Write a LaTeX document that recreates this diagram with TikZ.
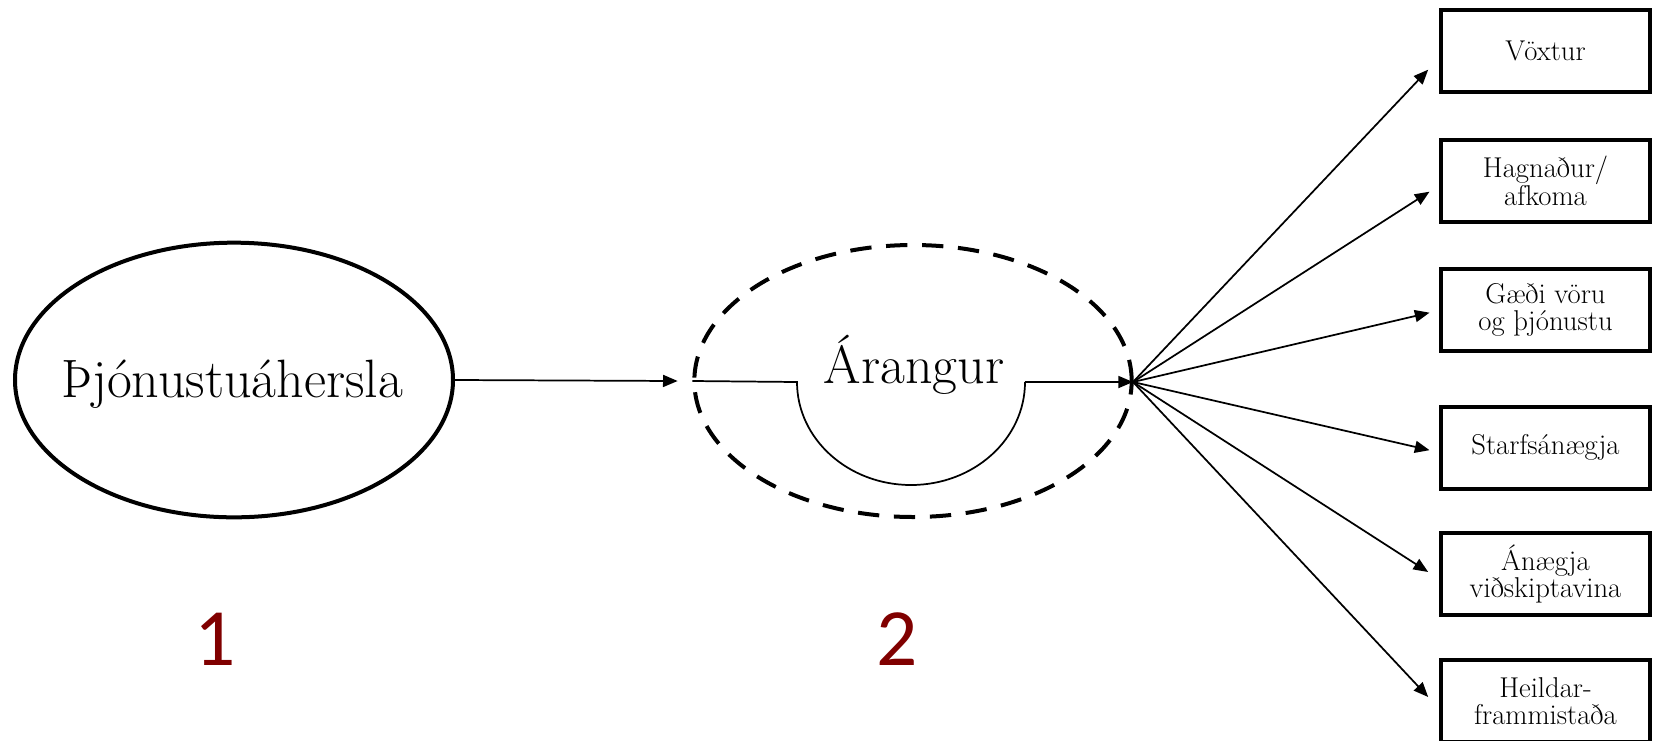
\documentclass[tikz,border=0pt]{standalone}
\usepackage{fontspec}
\newfontfamily\numfont{Carlito}
\usetikzlibrary{arrows.meta,shapes.geometric}
\definecolor{numred}{HTML}{800000}
\begin{document}
\begin{tikzpicture}[x=0.75pt,y=-0.75pt,
  arr/.style={-{Triangle[length=11pt,width=9pt]}, line width=1.3pt},
  thinline/.style={line width=1.3pt},
  box/.style={draw, line width=3pt, minimum width=157pt, minimum height=61.5pt, inner sep=0pt, align=center,
    font=\fontsize{21.5}{20.5}\selectfont},
  bigoval/.style={draw, ellipse, line width=3pt, inner sep=0pt},
  dashoval/.style={draw, ellipse, line width=3pt, inner sep=0pt, dash pattern=on 16pt off 11pt},
  numlabel/.style={text=numred, font=\numfont\fontsize{61}{61}\selectfont},
  bigtext/.style={font=\fontsize{40.5}{40.5}\selectfont}]
\useasboundingbox (0,0) rectangle (1655,740);
\clip (0,0) rectangle (1655,740);

\node[bigoval, minimum width=328.5pt, minimum height=206pt] (focus) at (234,380) {};
\node[bigtext, anchor=base] (focustext) at (232,397) {Þjónustuáhersla};

\node[dashoval, minimum width=328pt, minimum height=204pt] (result) at (913,381) {};
\node[bigtext, anchor=base] (resulttext) at (914,383) {Árangur};

\coordinate (hub) at (1133,382);
\coordinate (arcL) at (797,382);
\coordinate (arcR) at (1025,382);

\draw[arr] (focus.east) -- ([xshift=-11pt]result.west);
\draw[thinline] (result.west) -- (arcL) arc[start angle=180, end angle=360, x radius=85.5pt, y radius=77.25pt] -- (arcR);
\draw[arr] (arcR) -- (hub);

\node[box] (b1) at (1545.5,51) {Vöxtur};
\node[box] (b2) at (1545.5,181) {Hagnaður/\\afkoma};
\node[box] (b3) at (1545.5,310) {Gæði vöru\\og þjónustu};
\node[box] (b4) at (1545.5,447.5) {Starfsánægja};
\node[box] (b5) at (1545.5,574) {Ánægja\\viðskiptavina};
\node[box] (b6) at (1545.5,701) {Heildar-\\frammistaða};

\draw[arr] (hub) -- ([xshift=-8pt,yshift=-14pt]b1.west);
\draw[arr] (hub) -- ([xshift=-7pt,yshift=-8pt]b2.west);
\draw[arr] (hub) -- ([xshift=-7pt,yshift=-2pt]b3.west);
\draw[arr] (hub) -- ([xshift=-7pt,yshift=-2pt]b4.west);
\draw[arr] (hub) -- ([xshift=-8pt,yshift=1.5pt]b5.west);
\draw[arr] (hub) -- ([xshift=-8pt,yshift=3pt]b6.west);

\node[numlabel] (n1) at (215,639) {1};
\node[numlabel] (n2) at (897,639) {2};
\end{tikzpicture}
\end{document}
